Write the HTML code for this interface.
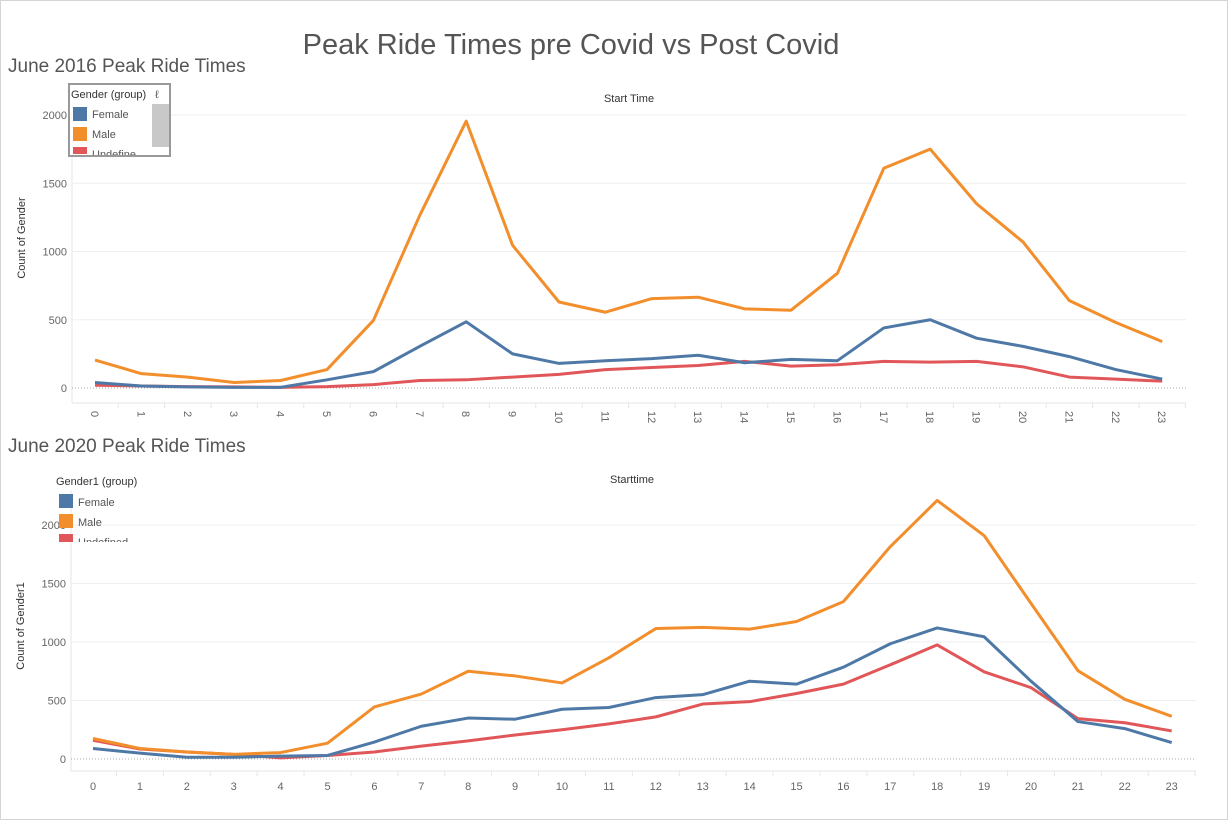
<!DOCTYPE html>
<html><head><meta charset="utf-8"><style>
body{margin:0;width:1228px;height:821px;background:#fff;overflow:hidden;font-family:"Liberation Sans",sans-serif}
svg text{font-family:"Liberation Sans",sans-serif}
</style></head><body>
<svg id="s" width="1228" height="821">
<rect x="0.5" y="0.5" width="1227" height="819" fill="#fff" stroke="#d4d4d4"/>
<text x="571" y="54" font-size="29" fill="#555" text-anchor="middle">Peak Ride Times pre Covid vs Post Covid</text>
<text x="8" y="72" font-size="19" fill="#555">June 2016 Peak Ride Times</text>
<text x="8" y="452" font-size="19" fill="#555">June 2020 Peak Ride Times</text>
<text x="629" y="102" font-size="11" fill="#333" text-anchor="middle">Start Time</text>
<text x="632" y="483" font-size="11" fill="#333" text-anchor="middle">Starttime</text>
<text transform="translate(25,238) rotate(-90)" font-size="11" fill="#333" text-anchor="middle">Count of Gender</text>
<text transform="translate(24,626) rotate(-90)" font-size="11" fill="#333" text-anchor="middle">Count of Gender1</text>
<g id="top"></g>
<g id="bot"></g>
<g>
<rect x="69" y="84" width="101" height="72" fill="#fff" stroke="#999" stroke-width="2"/>
<rect x="152" y="104" width="17" height="43" fill="#c8c8c8"/>
<text x="71" y="98" font-size="11" fill="#333">Gender (group)</text>
<text x="155" y="98" font-size="11" fill="#555">ℓ</text>
<rect x="73" y="107" width="14" height="14" fill="#4e79a7"/><text x="92" y="118" font-size="11" fill="#555">Female</text>
<rect x="73" y="127" width="14" height="14" fill="#f28e2b"/><text x="92" y="138" font-size="11" fill="#555">Male</text>
<rect x="73" y="147" width="14" height="7" fill="#e15759"/><text x="92" y="158" font-size="11" fill="#555" clip-path="url(#c1)">Undefine</text>
</g>
<defs><clipPath id="c1"><rect x="70" y="85" width="100" height="70"/></clipPath><clipPath id="c2"><rect x="50" y="470" width="120" height="72"/></clipPath></defs>
<g>
<text x="56" y="485" font-size="11" fill="#333">Gender1 (group)</text>
<rect x="59" y="494" width="14" height="14" fill="#4e79a7"/><text x="78" y="506" font-size="11" fill="#555">Female</text>
<rect x="59" y="514" width="14" height="14" fill="#f28e2b"/><text x="78" y="526" font-size="11" fill="#555">Male</text>
<g clip-path="url(#c2)"><rect x="59" y="534" width="14" height="14" fill="#e15759"/><text x="78" y="546" font-size="11" fill="#555">Undefined</text></g>
</g>
</svg>
<script>
const hours=[0,1,2,3,4,5,6,7,8,9,10,11,12,13,14,15,16,17,18,19,20,21,22,23];
const yTicks=[0,500,1000,1500,2000];
const male16=[205,105,80,40,55,135,495,1265,1955,1045,630,555,655,665,580,570,840,1610,1750,1350,1070,640,480,340];
const female16=[40,15,8,5,5,60,120,305,485,250,180,200,215,240,185,210,200,440,500,365,305,230,135,65];
const undef16=[20,15,10,8,5,10,25,55,60,80,100,135,150,165,195,160,170,195,190,195,155,80,65,50];
const male20=[175,90,60,40,55,135,445,555,750,710,650,865,1115,1125,1110,1175,1345,1815,2210,1910,1330,755,510,365];
const female20=[90,50,15,15,25,30,145,280,350,340,425,440,525,550,665,640,785,985,1120,1045,665,320,260,140];
const undef20=[160,85,60,40,10,30,60,110,155,205,250,300,360,470,490,560,640,805,975,745,610,345,310,240];
const NS='http://www.w3.org/2000/svg';
function mk(p,t,a){const e=document.createElementNS(NS,t);for(const k in a)e.setAttribute(k,a[k]);p.appendChild(e);return e;}
function chart(g,cfg,series){
  const x=i=>cfg.x0+i*cfg.step, y=v=>cfg.y0-v*cfg.ppu;
  mk(g,'line',{x1:cfg.left,x2:cfg.left,y1:cfg.top,y2:cfg.axisY,stroke:'#e6e6e6'});
  mk(g,'line',{x1:cfg.left,x2:cfg.right,y1:cfg.axisY,y2:cfg.axisY,stroke:'#e6e6e6'});
  yTicks.forEach(t=>{
    if(t>0){const l=mk(g,'line',{x1:cfg.left,x2:cfg.right,y1:y(t),y2:y(t),stroke:'#efefef'});
    
    }
    else mk(g,'line',{x1:cfg.left,x2:cfg.right,y1:y(0),y2:y(0),stroke:'#aaa','stroke-dasharray':'1,2'});
    const tx=mk(g,'text',{x:cfg.left-5,y:y(t)+4,'font-size':11,fill:'#666','text-anchor':'end'});
    tx.textContent=t;
    
    
  });
  hours.forEach((h,i)=>{
    mk(g,'line',{x1:x(i)+cfg.step/2,x2:x(i)+cfg.step/2,y1:cfg.axisY,y2:cfg.axisY+5,stroke:'#e6e6e6'});
    let tx;
    if(cfg.rot){tx=mk(g,'text',{transform:`translate(${x(i)-4},${cfg.axisY+8}) rotate(90)`,'font-size':11,fill:'#666'});}
    else tx=mk(g,'text',{x:x(i),y:cfg.axisY+19,'font-size':11,fill:'#666','text-anchor':'middle'});
    tx.textContent=h;
    
    
  });
  series.forEach(([vals,col,name])=>{
    const p=mk(g,'polyline',{points:vals.map((v,i)=>x(i)+','+y(v)).join(' '),fill:'none',stroke:col,'stroke-width':3,'stroke-linejoin':'round'});
    
    
  });
}
chart(document.getElementById('top'),{x0:95,step:46.4,y0:388,ppu:273/2000,left:72,right:1186,top:108,axisY:403,rot:true},
 [[undef16,'#e15759','undefined-line-2016'],[male16,'#f28e2b','male-line-2016'],[female16,'#4e79a7','female-line-2016']]);
chart(document.getElementById('bot'),{x0:93,step:46.9,y0:759,ppu:234/2000,left:71,right:1196,top:490,axisY:771,rot:false},
 [[undef20,'#e15759','undefined-line-2020'],[male20,'#f28e2b','male-line-2020'],[female20,'#4e79a7','female-line-2020']]);
</script>
</body></html>
